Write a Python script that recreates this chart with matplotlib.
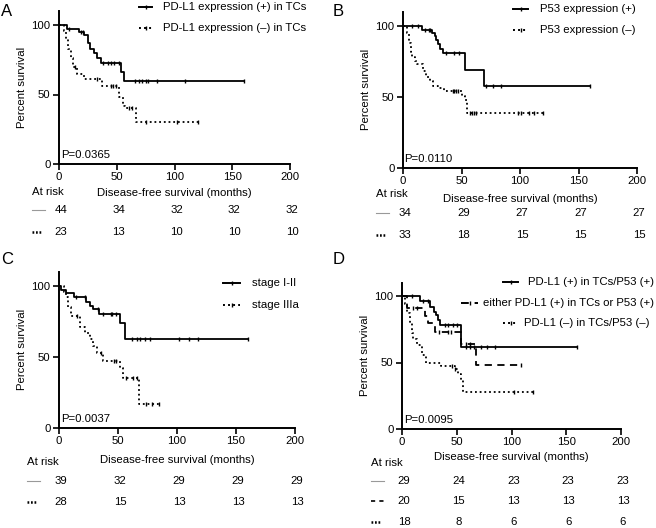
import numpy as np
import matplotlib
matplotlib.use('Agg')
import matplotlib.pyplot as plt
from matplotlib.lines import Line2D

plt.rcParams['font.family'] = ['Liberation Sans', 'DejaVu Sans']
plt.rcParams['font.size'] = 8

W, H = 656, 528
FS = 8.2

# ---- data ----
# Panel A: PD-L1 in TCs
A_pos_t = [0, 7, 17, 22, 25, 27, 30, 33, 36, 54, 56, 160]
A_pos_s = [100, 97, 95, 93, 87, 83, 80, 76, 73, 66, 60, 60]
A_pos_c = [9, 19, 21, 38, 42, 45, 48, 52, 66, 69, 72, 75, 77, 85, 109, 160]
A_neg_t = [0, 4, 6, 8, 10, 12, 16, 22, 37, 52, 55, 57, 67, 120]
A_neg_s = [100, 96, 90, 83, 76, 70, 65, 61, 56, 48, 42, 40, 30, 30]
A_neg_c = [14, 33, 45, 47, 49, 61, 63, 75, 102, 120]
A_risk = [[44, 34, 32, 32, 32], [23, 13, 10, 10, 10]]

# Panel B: P53
B_pos_t = [0, 16, 25, 27, 28, 30, 32, 34, 53, 69, 160]
B_pos_s = [100, 97, 95, 93, 90, 87, 84, 81, 69, 58, 58]
B_pos_c = [8, 13, 19, 22, 23, 37, 44, 48, 71, 77, 84, 160]
B_neg_t = [0, 3, 5, 7, 8, 10, 12, 17, 20, 23, 26, 30, 35, 50, 53, 55, 120]
B_neg_s = [100, 95, 88, 82, 78, 75, 73, 68, 64, 61, 58, 56, 54, 51, 48, 39, 39]
B_neg_c = [43, 44, 45, 47, 57, 59, 61, 62, 98, 101, 108, 112, 120]
B_risk = [[34, 29, 27, 27, 27], [33, 18, 15, 15, 15]]

# Panel C: stage
C_pos_t = [0, 2, 6, 13, 23, 26, 29, 34, 52, 56, 160]
C_pos_s = [100, 97, 95, 92, 89, 86, 84, 80, 74, 63, 63]
C_pos_c = [14, 22, 33, 37, 44, 45, 48, 62, 66, 69, 73, 77, 102, 110, 118, 160]
C_neg_t = [0, 4, 6, 8, 10, 18, 22, 26, 29, 32, 37, 52, 54, 68, 85]
C_neg_s = [100, 96, 92, 85, 79, 71, 67, 63, 58, 53, 47, 42, 35, 17, 17]
C_neg_c = [15, 36, 47, 48, 57, 63, 66, 74, 79, 85]
C_risk = [[39, 32, 29, 29, 29], [28, 15, 13, 13, 13]]

# Panel D: combined
D_pos_t = [0, 16, 26, 29, 31, 33, 35, 54, 160]
D_pos_s = [100, 96, 92, 88, 86, 82, 78, 62, 62]
D_pos_c = [9, 19, 24, 39, 42, 47, 50, 58, 62, 66, 72, 78, 85, 160]
D_eit_t = [0, 5, 21, 24, 30, 54, 68, 109]
D_eit_s = [100, 91, 85, 80, 73, 64, 48, 48]
D_eit_c = [10, 14, 34, 42, 45, 58, 62, 109]
D_neg_t = [0, 3, 5, 7, 9, 10, 14, 18, 22, 36, 48, 51, 54, 56, 120]
D_neg_s = [100, 94, 87, 80, 72, 68, 63, 56, 50, 47, 45, 41, 37, 28, 28]
D_neg_c = [46, 48, 102, 120]
D_risk = [[29, 24, 23, 23, 23], [20, 15, 13, 13, 13], [18, 8, 6, 6, 6]]

x_ticks = [0, 50, 100, 150, 200]

SOLID = '-'
DASH = (0, (4, 3))
DOT = (0, (1, 1.6))


def fx(x):
    return x / W


def fy(y):
    return 1 - y / H


def make_ax(fig, left, right, y0, y100, letter, lx, ly):
    per = (y0 - y100) / 100.0
    top = y0 - 110 * per
    ax = fig.add_axes([fx(left), fy(y0), (right - left) / W, (y0 - top) / H])
    ax.set_xlim(0, 200)
    ax.set_ylim(0, 110)
    ax.set_xticks(x_ticks)
    ax.set_yticks([0, 50, 100])
    for s in ['top', 'right']:
        ax.spines[s].set_visible(False)
    for s in ['left', 'bottom']:
        ax.spines[s].set_linewidth(1.4)
    ax.tick_params(length=4, width=1.2, labelsize=FS, pad=2)
    ax.set_ylabel('Percent survival', fontsize=FS, labelpad=3)
    fig.text(fx(lx), fy(ly), letter, fontsize=12, va='center', ha='left')
    return ax


def km(ax, t, s, cens, ls, lw=1.3):
    ax.step(t, s, where='post', color='black', linestyle=ls, linewidth=lw, clip_on=False)
    t = np.asarray(t)
    s = np.asarray(s)
    idx = np.searchsorted(t, cens, side='right') - 1
    ax.plot(cens, s[idx], linestyle='none', marker='|', markersize=3.5,
            markeredgewidth=1.0, color='black', clip_on=False)


def legend_entry(fig, x0, x1, xt, y, text, ls, ha='left'):
    fig.add_artist(Line2D([fx(x0), fx(x1)], [fy(y), fy(y)], color='black',
                          linestyle=ls, linewidth=1.4))
    fig.add_artist(Line2D([fx((x0 + x1) / 2)], [fy(y)], marker='|', markersize=3.5,
                          color='black', linestyle='none'))
    fig.text(fx(xt), fy(y), text, va='center', ha=ha, fontsize=FS)


def risk_table(fig, ax, left, right, y_at, y_xl, rows, styles, xs0):
    fig.text(fx(xs0), fy(y_at), 'At risk', va='center', ha='left', fontsize=FS)
    fig.text(fx((left + right) / 2), fy(y_xl), 'Disease-free survival (months)',
             va='center', ha='center', fontsize=FS)
    for (yr, vals), ls in zip(rows, styles):
        if ls == SOLID:
            fig.add_artist(Line2D([fx(xs0), fx(xs0 + 13)], [fy(yr), fy(yr)],
                                  color='0.6', linewidth=0.8))
        elif ls == DOT:
            fig.add_artist(Line2D([fx(xs0), fx(xs0 + 9)], [fy(yr), fy(yr)],
                                  color='black', linestyle=(0, (0.7, 0.7)), linewidth=1.8))
        else:
            fig.add_artist(Line2D([fx(xs0), fx(xs0 + 13)], [fy(yr), fy(yr)],
                                  color='black', linestyle=(0, (2.5, 2.5)), linewidth=1.2))
        for xt, v in zip(x_ticks, vals):
            xp = left + (right - left) * xt / 200 + 2
            fig.text(fx(xp), fy(yr), str(v), va='center', ha='center', fontsize=FS)


fig = plt.figure(figsize=(W / 100, H / 100), dpi=100)

# A
axA = make_ax(fig, 59, 290, 164, 25, 'A', 1, 12)
km(axA, A_pos_t, A_pos_s, A_pos_c, SOLID)
km(axA, A_neg_t, A_neg_s, A_neg_c, DOT)
axA.text(2, 3, 'P=0.0365', fontsize=FS, va='bottom', ha='left')
legend_entry(fig, 139, 152, 163, 7, 'PD-L1 expression (+) in TCs', SOLID)
legend_entry(fig, 139, 152, 163, 28, 'PD-L1 expression (\u2013) in TCs', DOT)
risk_table(fig, axA, 59, 290, 192, 193,
           [(210, A_risk[0]), (232, A_risk[1])], [SOLID, DOT], 32)

# B
axB = make_ax(fig, 403, 637, 168, 26, 'B', 333, 12)
km(axB, B_pos_t, B_pos_s, B_pos_c, SOLID)
km(axB, B_neg_t, B_neg_s, B_neg_c, DOT)
axB.text(1, 3, 'P=0.0110', fontsize=FS, va='bottom', ha='left')
legend_entry(fig, 513, 528, 540, 9, 'P53 expression (+)', SOLID)
legend_entry(fig, 513, 528, 540, 30, 'P53 expression (\u2013)', DOT)
risk_table(fig, axB, 403, 637, 194, 199,
           [(213, B_risk[0]), (235, B_risk[1])], [SOLID, DOT], 376)

# C
axC = make_ax(fig, 59, 295, 428, 286, 'C', 1, 260)
km(axC, C_pos_t, C_pos_s, C_pos_c, SOLID)
km(axC, C_neg_t, C_neg_s, C_neg_c, DOT)
axC.text(2, 3, 'P=0.0037', fontsize=FS, va='bottom', ha='left')
legend_entry(fig, 223, 240, 252, 283, 'stage I-II', SOLID)
legend_entry(fig, 223, 240, 252, 305, 'stage IIIa', DOT)
risk_table(fig, axC, 59, 295, 462, 460,
           [(481, C_risk[0]), (502, C_risk[1])], [SOLID, DOT], 27)

# D
axD = make_ax(fig, 402, 621, 429, 296, 'D', 333, 260)
km(axD, D_pos_t, D_pos_s, D_pos_c, SOLID)
km(axD, D_eit_t, D_eit_s, D_eit_c, DASH)
km(axD, D_neg_t, D_neg_s, D_neg_c, DOT)
axD.text(2, 3, 'P=0.0095', fontsize=FS, va='bottom', ha='left')
legend_entry(fig, 503, 518, 654, 282, 'PD-L1 (+) in TCs/P53 (+)', SOLID, ha='right')
legend_entry(fig, 461, 478, 654, 303, 'either PD-L1 (+) in TCs or P53 (+)', DASH, ha='right')
legend_entry(fig, 503, 518, 650, 323, 'PD-L1 (\u2013) in TCs/P53 (\u2013)', DOT, ha='right')
risk_table(fig, axD, 402, 621, 463, 457,
           [(481, D_risk[0]), (501, D_risk[1]), (522, D_risk[2])],
           [SOLID, DASH, DOT], 371)

fig.savefig('out.png', dpi=100)
